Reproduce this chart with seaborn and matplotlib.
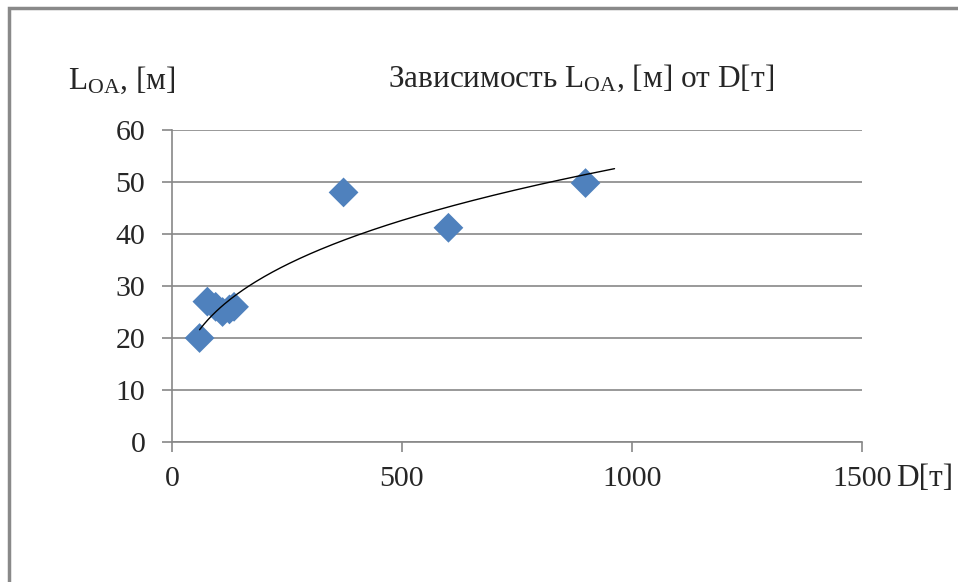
import numpy as np
import pandas as pd
import matplotlib
matplotlib.use("Agg")
import matplotlib.pyplot as plt
import seaborn as sns
from matplotlib.patches import Rectangle

# displacement D [t] and length L_OA [m]
disp = [60, 77, 95, 110, 125, 135, 373, 601, 899]
length = [20, 27, 26, 25, 25.5, 26, 48, 41.2, 49.8]
x_ticks = [0, 500, 1000, 1500]
y_ticks = [0, 10, 20, 30, 40, 50, 60]

sns.set_style("white")
plt.rcParams['font.family'] = ['Liberation Serif', 'DejaVu Serif']
plt.rcParams['mathtext.fontset'] = 'custom'
plt.rcParams['mathtext.rm'] = 'Liberation Serif'

df = pd.DataFrame({"D": disp, "L": length})

fig = plt.figure(figsize=(9.58, 5.82), dpi=100)
ax = fig.add_axes([0.1795, 0.2405, 0.7203, 0.5361])

# chart frame
fig.patches.append(Rectangle((9 / 958, -0.1), 1.2, 1.1 - 8 / 582, transform=fig.transFigure,
                             fill=False, edgecolor="#898989", linewidth=2.5))

# power trendline (same as Excel: least squares on log-log)
p, c = np.polyfit(np.log(df["D"]), np.log(df["L"]), 1)
xs = np.linspace(min(disp), 962, 200)
ax.plot(xs, np.exp(c) * xs ** p, color="black", linewidth=1, zorder=3)

sns.scatterplot(data=df, x="D", y="L", marker="D", s=230, color="#4F81BD",
                edgecolor="none", ax=ax, zorder=2)

ax.set_xlim(0, 1500)
ax.set_ylim(0, 60)
ax.set_xticks(x_ticks)
ax.set_yticks(y_ticks)
ax.set_xlabel("")
ax.set_ylabel("")
ax.grid(axis="y", color="#878787", linewidth=1.2)
ax.grid(axis="x", visible=False)
for s in ["top", "right"]:
    ax.spines[s].set_visible(False)
for s in ["left", "bottom"]:
    ax.spines[s].set_color("#878787")
    ax.spines[s].set_linewidth(1.2)
ax.tick_params(axis="y", length=7.2, width=1.2, color="#878787", pad=12, labelsize=21.5, left=True)
ax.tick_params(axis="x", length=7.2, width=1.2, color="#878787", pad=10, labelsize=21.5, bottom=True)

fig.text(68 / 958, 1 - 80 / 582, r"$\mathrm{L_{OA}}$, [м]", fontsize=22.5, va="center", ha="left")
fig.text(388 / 958, 1 - 78 / 582, r"Зависимость $\mathrm{L_{OA}}$, [м] от D[т]", fontsize=22.5,
         va="center", ha="left")
fig.text(896 / 958, 1 - 479 / 582, "D[т]", fontsize=22.5, va="center", ha="left")

fig.savefig("out.png", dpi=100)
